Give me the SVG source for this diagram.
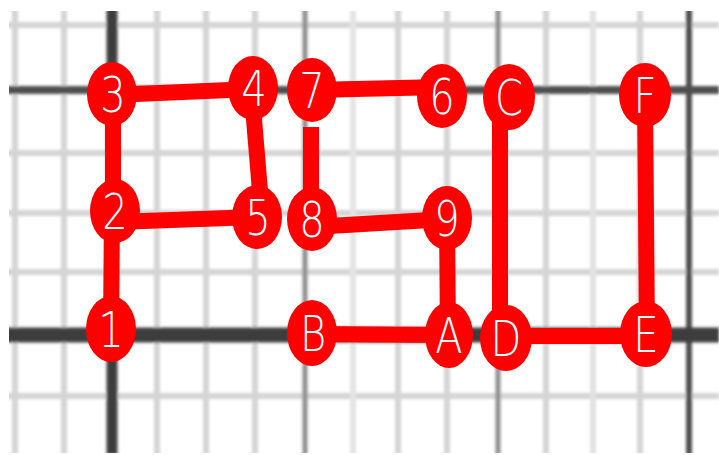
<svg xmlns="http://www.w3.org/2000/svg" width="719" height="455" viewBox="0 0 719 455">
<style>
.minor{stroke:#d4d4d4;stroke-width:6;fill:none}
.mid{stroke:#8e8e8e;stroke-width:5;fill:none}
.dark{stroke:#505050;stroke-width:6;fill:none}
.axis{stroke:#3c3c3c;fill:none}
.edge{stroke:#ff0000;stroke-width:16;stroke-linecap:butt;fill:none}
.node ellipse{fill:#ff0000}
.node text{fill:#ffffff;font-family:"DejaVu Sans","Lato","Liberation Sans",sans-serif;font-weight:200;font-size:50px;text-anchor:middle}
</style>
<defs>
<filter id="blur" x="-5%" y="-5%" width="110%" height="110%"><feGaussianBlur stdDeviation="1.8"/></filter>
<clipPath id="area"><rect x="9" y="11" width="710" height="442"/></clipPath>
</defs>
<rect width="719" height="455" fill="#ffffff"/>
<g id="grid" clip-path="url(#area)" filter="url(#blur)">
<g class="minor">
<line x1="0" y1="25" x2="719" y2="25"/>
<line x1="0" y1="153" x2="719" y2="153"/>
<line x1="0" y1="213" x2="719" y2="213"/>
<line x1="0" y1="272" x2="719" y2="272"/>
<line x1="0" y1="396" x2="719" y2="396"/>
<line x1="15" y1="0" x2="15" y2="455"/>
<line x1="64" y1="0" x2="64" y2="455"/>
<line x1="157" y1="0" x2="157" y2="455"/>
<line x1="206" y1="0" x2="206" y2="455"/>
<line x1="255" y1="0" x2="255" y2="455"/>
<line x1="353" y1="0" x2="353" y2="455" stroke="#e4e4e4"/>
<line x1="398" y1="0" x2="398" y2="455"/>
<line x1="447" y1="0" x2="447" y2="455"/>
<line x1="546" y1="0" x2="546" y2="455"/>
<line x1="593" y1="0" x2="593" y2="455" stroke="#e2e2e2"/>
<line x1="640" y1="0" x2="640" y2="455"/>
</g>
<g class="mid">
<line x1="305" y1="0" x2="305" y2="455"/>
<line x1="498" y1="0" x2="498" y2="455"/>
</g>
<g class="dark">
<line x1="689" y1="0" x2="689" y2="455"/>
<line x1="0" y1="90" x2="719" y2="90" stroke-width="8"/>
</g>
<line class="axis" x1="112" y1="0" x2="112" y2="455" stroke-width="11"/>
<line class="axis" x1="0" y1="335" x2="719" y2="335" stroke-width="15"/>
</g>
<g id="connectors" class="edge">
<line x1="112" y1="95" x2="253" y2="89"/>
<line x1="113" y1="94" x2="113" y2="211"/>
<line x1="112" y1="211" x2="111" y2="329"/>
<line x1="252" y1="95" x2="262" y2="215"/>
<line x1="115" y1="222" x2="257" y2="217"/>
<line x1="312" y1="90" x2="442" y2="87"/>
<line x1="311" y1="127" x2="311" y2="219"/>
<line x1="312" y1="227" x2="447" y2="219"/>
<line x1="447" y1="218" x2="448" y2="335"/>
<line x1="312" y1="334" x2="449" y2="335"/>
<line x1="500" y1="97" x2="500" y2="338"/>
<line x1="506" y1="336" x2="646" y2="336"/>
<line x1="645" y1="95" x2="647" y2="334"/>
</g>
<g id="n3" class="node"><ellipse cx="112" cy="94" rx="25" ry="32"/><text transform="translate(113 112) scale(0.8 1)">3</text></g>
<g id="n4" class="node"><ellipse cx="253" cy="88" rx="25" ry="32"/><text transform="translate(254 106) scale(0.8 1)">4</text></g>
<g id="n7" class="node"><ellipse cx="312" cy="90" rx="25" ry="32"/><text transform="translate(312 108) scale(0.8 1)">7</text></g>
<g id="n6" class="node"><ellipse cx="442" cy="96" rx="25" ry="32"/><text transform="translate(442 114) scale(0.8 1)">6</text></g>
<g id="nC" class="node"><ellipse cx="509" cy="97" rx="26" ry="33"/><text transform="translate(509 115) scale(0.8 1)">C</text></g>
<g id="nF" class="node"><ellipse cx="645" cy="95" rx="26" ry="32"/><text transform="translate(645 113) scale(0.8 1)">F</text></g>
<g id="n2" class="node"><ellipse cx="115" cy="211" rx="25" ry="32"/><text transform="translate(115 229) scale(0.8 1)">2</text></g>
<g id="n5" class="node"><ellipse cx="257" cy="217" rx="25" ry="32"/><text transform="translate(258 235) scale(0.8 1)">5</text></g>
<g id="n8" class="node"><ellipse cx="312" cy="219" rx="25" ry="32"/><text transform="translate(312 237) scale(0.8 1)">8</text></g>
<g id="n9" class="node"><ellipse cx="447" cy="218" rx="25" ry="32"/><text transform="translate(447 236) scale(0.8 1)">9</text></g>
<g id="n1" class="node"><ellipse cx="111" cy="329" rx="25" ry="33"/><text transform="translate(111 347) scale(0.8 1)">1</text></g>
<g id="nB" class="node"><ellipse cx="312" cy="333" rx="25" ry="33"/><text transform="translate(313 351) scale(0.8 1)">B</text></g>
<g id="nA" class="node"><ellipse cx="449" cy="335" rx="24" ry="33"/><text transform="translate(449 353) scale(0.8 1)">A</text></g>
<g id="nD" class="node"><ellipse cx="506" cy="338" rx="26" ry="33"/><text transform="translate(506 356) scale(0.8 1)">D</text></g>
<g id="nE" class="node"><ellipse cx="646" cy="334" rx="26" ry="33"/><text transform="translate(646 352) scale(0.8 1)">E</text></g>
</svg>
